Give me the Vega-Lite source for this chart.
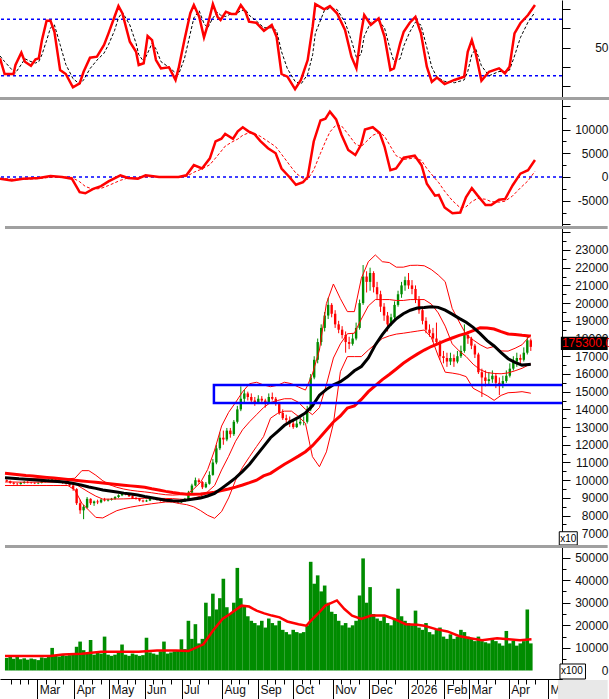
{
"$schema": "https://vega.github.io/schema/vega-lite/v6.json",
"padding": 0,
"spacing": 2,
"bounds": "flush",
"background": "white",
"config": {"view": {"stroke": null}, "axis": {"labelFont": "Liberation Sans", "labelFontSize": 12, "labelColor": "#111111", "domainColor": "#000000", "tickColor": "#000000", "grid": false, "labelOverlap": false, "labelFlush": false, "labelBound": false}},
"datasets": {
"p": [
{"t":1,"o":10000,"h":10050,"l":9900,"c":9950,"v":5500},{"t":3,"o":9950,"h":9980,"l":9800,"c":9850,"v":6000},{"t":5,"o":9850,"h":9900,"l":9750,"c":9800,"v":5200},{"t":7,"o":9800,"h":9850,"l":9700,"c":9780,"v":6800},{"t":9,"o":9780,"h":9900,"l":9750,"c":9850,"v":5000},{"t":11,"o":9850,"h":9950,"l":9800,"c":9900,"v":5400},{"t":13,"o":9900,"h":9950,"l":9820,"c":9870,"v":4800},{"t":15,"o":9870,"h":9900,"l":9800,"c":9850,"v":5300},{"t":17,"o":9850,"h":9880,"l":9780,"c":9820,"v":5000},{"t":19,"o":9820,"h":9880,"l":9780,"c":9850,"v":4600},
{"t":21,"o":9850,"h":9950,"l":9820,"c":9900,"v":5800},{"t":23,"o":9900,"h":9980,"l":9870,"c":9950,"v":5500},{"t":25,"o":9950,"h":10050,"l":9900,"c":10000,"v":6200},{"t":27,"o":10000,"h":10150,"l":9950,"c":10050,"v":10000},{"t":29,"o":10050,"h":10080,"l":9950,"c":10000,"v":6500},{"t":31,"o":10000,"h":10020,"l":9850,"c":9900,"v":6200},{"t":33,"o":9900,"h":9950,"l":9800,"c":9850,"v":7000},{"t":35,"o":9850,"h":9900,"l":9750,"c":9800,"v":6500},{"t":37,"o":9800,"h":9850,"l":9650,"c":9700,"v":6800},{"t":39,"o":9700,"h":9750,"l":9400,"c":9500,"v":7500},
{"t":41,"o":9500,"h":9550,"l":8600,"c":8700,"v":10500},{"t":43,"o":8700,"h":8900,"l":8100,"c":8300,"v":12800},{"t":45,"o":8300,"h":8600,"l":7800,"c":8500,"v":9000},{"t":47,"o":8450,"h":9050,"l":8400,"c":8950,"v":7500},{"t":49,"o":8950,"h":8980,"l":8600,"c":8700,"v":13500},{"t":51,"o":8700,"h":8850,"l":8550,"c":8800,"v":7000},{"t":53,"o":8800,"h":8900,"l":8650,"c":8750,"v":8000},{"t":55,"o":8750,"h":8950,"l":8700,"c":8900,"v":7500},{"t":57,"o":8900,"h":9000,"l":8800,"c":8850,"v":15000},{"t":59,"o":8850,"h":8950,"l":8800,"c":8900,"v":7000},
{"t":61,"o":8900,"h":9000,"l":8850,"c":8950,"v":6500},{"t":63,"o":8950,"h":9100,"l":8900,"c":9050,"v":7000},{"t":65,"o":9050,"h":9200,"l":9000,"c":9150,"v":8000},{"t":67,"o":9150,"h":9300,"l":9100,"c":9250,"v":11500},{"t":69,"o":9250,"h":9300,"l":9150,"c":9200,"v":7000},{"t":71,"o":9200,"h":9250,"l":9050,"c":9100,"v":6500},{"t":73,"o":9100,"h":9150,"l":8950,"c":9000,"v":7500},{"t":75,"o":9000,"h":9050,"l":8900,"c":8950,"v":7000},{"t":77,"o":8950,"h":9000,"l":8800,"c":8850,"v":6500},{"t":79,"o":8850,"h":8900,"l":8750,"c":8800,"v":6800},
{"t":81,"o":8800,"h":8900,"l":8780,"c":8850,"v":14500},{"t":83,"o":8850,"h":9050,"l":8820,"c":9000,"v":8000},{"t":85,"o":9000,"h":9050,"l":8920,"c":8980,"v":7500},{"t":87,"o":8980,"h":9000,"l":8850,"c":8900,"v":7000},{"t":89,"o":8900,"h":8950,"l":8800,"c":8850,"v":8500},{"t":91,"o":8850,"h":8900,"l":8780,"c":8820,"v":12800},{"t":93,"o":8820,"h":8880,"l":8780,"c":8830,"v":7500},{"t":95,"o":8830,"h":8870,"l":8770,"c":8820,"v":8000},{"t":97,"o":8820,"h":8850,"l":8730,"c":8780,"v":8500},{"t":99,"o":8780,"h":8800,"l":8700,"c":8750,"v":9000},
{"t":101,"o":8750,"h":8850,"l":8720,"c":8800,"v":13800},{"t":103,"o":8800,"h":9000,"l":8780,"c":8950,"v":9500},{"t":105,"o":8950,"h":9400,"l":8900,"c":9300,"v":22000},{"t":107,"o":9300,"h":9800,"l":9250,"c":9700,"v":14000},{"t":109,"o":9700,"h":10150,"l":9650,"c":10000,"v":20500},{"t":111,"o":10000,"h":10100,"l":9800,"c":9900,"v":12000},{"t":113,"o":9900,"h":9950,"l":9500,"c":9600,"v":14000},{"t":115,"o":9600,"h":9900,"l":9550,"c":9800,"v":30000},{"t":117,"o":9800,"h":10500,"l":9750,"c":10300,"v":24000},{"t":119,"o":10300,"h":11200,"l":10250,"c":11000,"v":34000},
{"t":121,"o":11000,"h":12000,"l":10900,"c":11800,"v":27000},{"t":123,"o":11800,"h":12700,"l":11700,"c":12400,"v":32000},{"t":125,"o":12400,"h":12800,"l":12000,"c":12300,"v":40600},{"t":127,"o":12300,"h":12950,"l":12200,"c":12800,"v":28000},{"t":129,"o":12800,"h":12950,"l":12400,"c":12600,"v":25000},{"t":131,"o":12600,"h":13400,"l":12500,"c":13300,"v":30000},{"t":133,"o":13300,"h":14200,"l":13200,"c":14000,"v":45400},{"t":135,"o":14000,"h":15300,"l":13900,"c":14600,"v":32000},{"t":137,"o":14600,"h":15100,"l":14400,"c":14900,"v":28700},{"t":139,"o":14900,"h":15000,"l":14500,"c":14700,"v":24000},
{"t":141,"o":14700,"h":14900,"l":14300,"c":14500,"v":22000},{"t":143,"o":14500,"h":14700,"l":14200,"c":14400,"v":21000},{"t":145,"o":14400,"h":14800,"l":14300,"c":14600,"v":20000},{"t":147,"o":14600,"h":14750,"l":14300,"c":14500,"v":22000},{"t":149,"o":14500,"h":14600,"l":14100,"c":14400,"v":19000},{"t":151,"o":14400,"h":14900,"l":14300,"c":14700,"v":23000},{"t":153,"o":14700,"h":14950,"l":14500,"c":14600,"v":21000},{"t":155,"o":14600,"h":14700,"l":14200,"c":14300,"v":20000},{"t":157,"o":14300,"h":14400,"l":13700,"c":13800,"v":22000},{"t":159,"o":13800,"h":14000,"l":13400,"c":13500,"v":18000},
{"t":161,"o":13500,"h":13700,"l":13200,"c":13400,"v":17000},{"t":163,"o":13400,"h":13600,"l":13000,"c":13200,"v":16000},{"t":165,"o":13200,"h":13400,"l":12900,"c":13000,"v":18000},{"t":167,"o":13000,"h":13400,"l":12950,"c":13200,"v":17000},{"t":169,"o":13200,"h":13500,"l":13100,"c":13300,"v":16500},{"t":171,"o":13300,"h":13600,"l":13100,"c":13300,"v":17000},{"t":173,"o":13300,"h":14200,"l":13200,"c":14000,"v":20000},{"t":175,"o":14000,"h":16000,"l":13900,"c":15800,"v":48100},{"t":177,"o":15800,"h":17000,"l":15700,"c":16800,"v":38400},{"t":179,"o":16800,"h":18000,"l":16600,"c":17800,"v":42100},
{"t":181,"o":17800,"h":18800,"l":17600,"c":18600,"v":35000},{"t":183,"o":18600,"h":19500,"l":18400,"c":19300,"v":37600},{"t":185,"o":19300,"h":20300,"l":19100,"c":19900,"v":30000},{"t":187,"o":19900,"h":20000,"l":19200,"c":19400,"v":26000},{"t":189,"o":19400,"h":19600,"l":18600,"c":18800,"v":25000},{"t":191,"o":18800,"h":19000,"l":18300,"c":18500,"v":22000},{"t":193,"o":18500,"h":18700,"l":18000,"c":18200,"v":20000},{"t":195,"o":18200,"h":18400,"l":17200,"c":17800,"v":21000},{"t":197,"o":17800,"h":18100,"l":17400,"c":17700,"v":19000},{"t":199,"o":17700,"h":18300,"l":17600,"c":18000,"v":20000},
{"t":201,"o":18000,"h":18900,"l":17900,"c":18600,"v":22000},{"t":203,"o":18600,"h":20200,"l":18500,"c":20000,"v":33200},{"t":205,"o":20000,"h":22150,"l":19900,"c":21500,"v":49600},{"t":207,"o":21500,"h":21800,"l":20600,"c":21200,"v":30000},{"t":209,"o":21200,"h":22000,"l":20700,"c":21700,"v":36900},{"t":211,"o":21700,"h":21800,"l":20600,"c":20900,"v":25000},{"t":213,"o":20900,"h":21200,"l":20200,"c":20500,"v":23000},{"t":215,"o":20500,"h":20700,"l":19500,"c":19800,"v":22000},{"t":217,"o":19800,"h":20000,"l":19000,"c":19300,"v":24000},{"t":219,"o":19300,"h":19500,"l":18400,"c":18800,"v":21000},
{"t":221,"o":18800,"h":19400,"l":18700,"c":19200,"v":20000},{"t":223,"o":19200,"h":20100,"l":19100,"c":19900,"v":23000},{"t":225,"o":19900,"h":20700,"l":19800,"c":20500,"v":36200},{"t":227,"o":20500,"h":21200,"l":20300,"c":21000,"v":24000},{"t":229,"o":21000,"h":21500,"l":20700,"c":21300,"v":22000},{"t":231,"o":21300,"h":21700,"l":20800,"c":21000,"v":21000},{"t":233,"o":21000,"h":21300,"l":20500,"c":20800,"v":20000},{"t":235,"o":20800,"h":21000,"l":20000,"c":20200,"v":26500},{"t":237,"o":20200,"h":20400,"l":19400,"c":19600,"v":19000},{"t":239,"o":19600,"h":19800,"l":18800,"c":19000,"v":18000},
{"t":241,"o":19000,"h":19200,"l":18300,"c":18500,"v":21000},{"t":243,"o":18500,"h":18800,"l":18100,"c":18300,"v":17000},{"t":245,"o":18300,"h":18600,"l":17800,"c":18000,"v":16000},{"t":247,"o":18000,"h":18900,"l":17700,"c":17800,"v":18000},{"t":249,"o":17800,"h":17900,"l":16800,"c":17000,"v":19000},{"t":251,"o":17000,"h":17300,"l":16600,"c":16900,"v":15000},{"t":253,"o":16900,"h":17200,"l":16400,"c":16700,"v":14000},{"t":255,"o":16700,"h":17200,"l":16500,"c":16900,"v":16000},{"t":257,"o":16900,"h":17100,"l":16400,"c":16700,"v":14000},{"t":259,"o":16700,"h":17300,"l":16600,"c":17000,"v":15000},
{"t":261,"o":17000,"h":17600,"l":16900,"c":17300,"v":18000},{"t":263,"o":17300,"h":18800,"l":17200,"c":18200,"v":17000},{"t":265,"o":18200,"h":18400,"l":17700,"c":18000,"v":15000},{"t":267,"o":18000,"h":18100,"l":17400,"c":17600,"v":14000},{"t":269,"o":17600,"h":17700,"l":16900,"c":17100,"v":13000},{"t":271,"o":17100,"h":17200,"l":16000,"c":16100,"v":15000},{"t":273,"o":16100,"h":16300,"l":14700,"c":15800,"v":13000},{"t":275,"o":15800,"h":16200,"l":15300,"c":15600,"v":12500},{"t":277,"o":15600,"h":16100,"l":15400,"c":15700,"v":12000},{"t":279,"o":15700,"h":16200,"l":15500,"c":15900,"v":14000},
{"t":281,"o":15900,"h":16000,"l":15200,"c":15500,"v":13000},{"t":283,"o":15500,"h":15800,"l":14800,"c":15400,"v":12000},{"t":285,"o":15400,"h":15900,"l":15200,"c":15600,"v":11000},{"t":287,"o":15600,"h":16200,"l":15500,"c":15900,"v":17500},{"t":289,"o":15900,"h":16600,"l":15800,"c":16300,"v":12000},{"t":291,"o":16300,"h":17000,"l":16200,"c":16700,"v":13000},{"t":293,"o":16700,"h":17200,"l":16400,"c":16900,"v":11000},{"t":295,"o":16900,"h":17100,"l":16500,"c":16800,"v":12000},{"t":297,"o":16800,"h":17500,"l":16700,"c":17200,"v":13000},{"t":299,"o":17200,"h":18100,"l":17100,"c":17900,"v":27000},
{"t":301,"o":17900,"h":18000,"l":17300,"c":17530,"v":12000}
],
"m": [
{"t":0,"bu":10100,"bm":9900,"bl":9700,"k":10140,"r":10390},{"t":4,"bu":10100,"bm":9900,"bl":9700,"k":10110,"r":10350},{"t":8,"bu":10090,"bm":9890,"bl":9700,"k":10080,"r":10310},{"t":12,"bu":10090,"bm":9890,"bl":9700,"k":10060,"r":10270},{"t":16,"bu":10090,"bm":9890,"bl":9700,"k":10030,"r":10240},{"t":20,"bu":10080,"bm":9890,"bl":9700,"k":10000,"r":10200},{"t":24,"bu":10080,"bm":9890,"bl":9700,"k":9970,"r":10160},{"t":28,"bu":10080,"bm":9890,"bl":9700,"k":9940,"r":10120},{"t":32,"bu":10080,"bm":9890,"bl":9700,"k":9910,"r":10080},{"t":36,"bu":10080,"bm":9890,"bl":9700,"k":9870,"r":10040},
{"t":40,"bu":10110,"bm":9800,"bl":9450,"k":9795,"r":10000},{"t":44,"bu":10540,"bm":9560,"bl":8700,"k":9710,"r":9960},{"t":48,"bu":10540,"bm":9320,"bl":8300,"k":9620,"r":9920},{"t":52,"bu":10280,"bm":9100,"bl":7900,"k":9540,"r":9880},{"t":56,"bu":9970,"bm":8930,"bl":7870,"k":9450,"r":9840},{"t":60,"bu":9740,"bm":8930,"bl":8080,"k":9390,"r":9800},{"t":64,"bu":9600,"bm":8940,"bl":8280,"k":9330,"r":9760},{"t":68,"bu":9500,"bm":8945,"bl":8390,"k":9270,"r":9720},{"t":72,"bu":9430,"bm":8960,"bl":8480,"k":9220,"r":9680},{"t":76,"bu":9380,"bm":8970,"bl":8550,"k":9160,"r":9640},
{"t":80,"bu":9340,"bm":8980,"bl":8610,"k":9080,"r":9600},{"t":84,"bu":9290,"bm":8980,"bl":8670,"k":9010,"r":9520},{"t":88,"bu":9230,"bm":8975,"bl":8720,"k":8940,"r":9450},{"t":92,"bu":9180,"bm":8970,"bl":8770,"k":8870,"r":9370},{"t":96,"bu":9160,"bm":8960,"bl":8760,"k":8840,"r":9300},{"t":100,"bu":9180,"bm":8930,"bl":8680,"k":8830,"r":9250},{"t":104,"bu":9200,"bm":8910,"bl":8620,"k":8880,"r":9210},{"t":108,"bu":9500,"bm":8990,"bl":8500,"k":8940,"r":9210},{"t":112,"bu":9880,"bm":9100,"bl":8280,"k":9000,"r":9220},{"t":116,"bu":10600,"bm":9350,"bl":8020,"k":9110,"r":9270},
{"t":120,"bu":11700,"bm":9700,"bl":7850,"k":9260,"r":9320},{"t":124,"bu":13060,"bm":10580,"bl":8230,"k":9540,"r":9420},{"t":128,"bu":13830,"bm":11350,"bl":9000,"k":9830,"r":9500},{"t":132,"bu":14390,"bm":12200,"bl":10000,"k":10130,"r":9610},{"t":136,"bu":14990,"bm":12850,"bl":10730,"k":10500,"r":9730},{"t":140,"bu":15450,"bm":13300,"bl":11330,"k":10900,"r":9860},{"t":144,"bu":15530,"bm":13700,"bl":11900,"k":11400,"r":10000},{"t":148,"bu":15380,"bm":14100,"bl":12460,"k":11900,"r":10240},{"t":152,"bu":15280,"bm":14390,"bl":13500,"k":12400,"r":10390},{"t":156,"bu":15360,"bm":14500,"bl":13770,"k":12750,"r":10650},
{"t":160,"bu":15530,"bm":14600,"bl":13900,"k":13100,"r":10900},{"t":164,"bu":15450,"bm":14600,"bl":13900,"k":13340,"r":11130},{"t":168,"bu":15260,"bm":14400,"bl":13600,"k":13550,"r":11360},{"t":172,"bu":15090,"bm":14000,"bl":13210,"k":13800,"r":11610},{"t":176,"bu":16000,"bm":13700,"bl":11330,"k":14200,"r":11950},{"t":180,"bu":17350,"bm":14100,"bl":10760,"k":14800,"r":12380},{"t":184,"bu":19980,"bm":15400,"bl":11600,"k":15130,"r":12830},{"t":188,"bu":21080,"bm":16900,"bl":13200,"k":15390,"r":13290},{"t":192,"bu":20250,"bm":17700,"bl":16130,"k":15560,"r":13630},{"t":196,"bu":19520,"bm":18270,"bl":16980,"k":15840,"r":14080},
{"t":200,"bu":19520,"bm":18300,"bl":16980,"k":16180,"r":14200},{"t":204,"bu":21400,"bm":19100,"bl":16980,"k":16420,"r":14560},{"t":208,"bu":22340,"bm":19840,"bl":17350,"k":16900,"r":15000},{"t":212,"bu":22720,"bm":20200,"bl":17680,"k":17640,"r":15340},{"t":216,"bu":22340,"bm":20200,"bl":18000,"k":18220,"r":15680},{"t":220,"bu":22290,"bm":20200,"bl":18150,"k":18720,"r":15970},{"t":224,"bu":22030,"bm":20150,"bl":18250,"k":19120,"r":16280},{"t":228,"bu":22030,"bm":20150,"bl":18300,"k":19400,"r":16600},{"t":232,"bu":22130,"bm":20200,"bl":18360,"k":19600,"r":16870},{"t":236,"bu":22140,"bm":20200,"bl":18420,"k":19720,"r":17120},
{"t":240,"bu":22110,"bm":20200,"bl":18480,"k":19750,"r":17350},{"t":244,"bu":21900,"bm":19950,"bl":18080,"k":19790,"r":17550},{"t":248,"bu":21590,"bm":19450,"bl":17020,"k":19760,"r":17710},{"t":252,"bu":21210,"bm":18700,"bl":16100,"k":19600,"r":17880},{"t":256,"bu":19700,"bm":17700,"bl":16050,"k":19380,"r":18030},{"t":260,"bu":18940,"bm":17300,"bl":15980,"k":19140,"r":18180},{"t":264,"bu":18220,"bm":16980,"bl":15850,"k":18920,"r":18290},{"t":268,"bu":17920,"bm":16550,"bl":15190,"k":18630,"r":18450},{"t":272,"bu":17650,"bm":16240,"bl":14980,"k":18280,"r":18610},{"t":276,"bu":17450,"bm":16080,"bl":14770,"k":17880,"r":18600},
{"t":280,"bu":17550,"bm":16030,"bl":14510,"k":17580,"r":18540},{"t":284,"bu":17300,"bm":16010,"bl":14790,"k":17200,"r":18390},{"t":288,"bu":17290,"bm":16060,"bl":14940,"k":16860,"r":18260},{"t":292,"bu":17450,"bm":16180,"bl":14960,"k":16650,"r":18230},{"t":296,"bu":17650,"bm":16320,"bl":15000,"k":16500,"r":18180},{"t":300,"bu":18100,"bm":16520,"bl":14930,"k":16540,"r":18150},{"t":301,"bu":18200,"bm":16560,"bl":14910,"k":16550,"r":18140}
],
"vm": [
{"t":0,"v":6400},{"t":26,"v":6400},{"t":33,"v":7100},{"t":44,"v":7400},{"t":55,"v":8300},{"t":65.5,"v":8300},{"t":76.5,"v":8300},{"t":87,"v":8900},{"t":98,"v":8900},{"t":105,"v":8600},{"t":113.6,"v":11600},{"t":119,"v":17600},{"t":124.5,"v":22800},{"t":128.8,"v":25000},{"t":135.4,"v":28700},{"t":139.7,"v":28300},{"t":144,"v":26500},{"t":148.4,"v":25300},{"t":152.8,"v":24300},{"t":157.2,"v":23500},{"t":161.6,"v":21700},{"t":168,"v":20500},{"t":172.5,"v":19800},{"t":174.7,"v":21700},{"t":179,"v":25000},{"t":183.4,"v":28700},{"t":190,"v":31000},{"t":194.3,"v":27200},{"t":198.7,"v":24300},{"t":204,"v":22800},{"t":209.6,"v":24300},{"t":217.3,"v":24300},{"t":222.7,"v":22800},{"t":229.3,"v":20500},{"t":235.8,"v":20200},{"t":240,"v":19800},{"t":246.7,"v":18300},{"t":253.3,"v":17300},{"t":259.8,"v":15300},{"t":266.4,"v":14300},{"t":273,"v":13400},{"t":281.7,"v":14300},{"t":288.2,"v":13800},{"t":294.8,"v":13400},{"t":301.4,"v":13800}
],
"mc": [
{"t":0,"m":-360,"s":-300},{"t":6.6,"m":-710,"s":-450},{"t":13,"m":-360,"s":-500},{"t":21.8,"m":-210,"s":-350},{"t":28.4,"m":210,"s":-50},{"t":34.9,"m":0,"s":50},{"t":40.4,"m":-360,"s":-100},{"t":44.8,"m":-3210,"s":-1000},{"t":48,"m":-3430,"s":-2000},{"t":52.4,"m":-2500,"s":-2600},{"t":56.8,"m":-1930,"s":-2400},{"t":61,"m":-930,"s":-1800},{"t":67.7,"m":360,"s":-700},{"t":72,"m":-210,"s":-200},{"t":77.5,"m":-360,"s":-200},{"t":81.9,"m":360,"s":0},{"t":89.4,"m":0,"s":100},{"t":100.4,"m":0,"s":0},{"t":104.8,"m":360,"s":100},{"t":109,"m":2500,"s":1000},{"t":113.6,"m":1790,"s":1700},{"t":118,"m":3930,"s":2600},{"t":121.2,"m":7500,"s":4000},{"t":124.5,"m":8070,"s":5500},{"t":126.6,"m":9070,"s":6500},{"t":131,"m":8070,"s":7500},{"t":133.7,"m":9640,"s":8000},{"t":136.5,"m":10500,"s":8800},{"t":139.7,"m":9640,"s":9300},{"t":143,"m":9070,"s":9200},{"t":146.3,"m":7640,"s":8600},{"t":150.7,"m":6070,"s":7500},{"t":155,"m":5000,"s":6400},{"t":158.3,"m":1790,"s":4800},{"t":162.7,"m":0,"s":2600},{"t":166.4,"m":-1640,"s":800},{"t":170.4,"m":-1070,"s":-300},{"t":173,"m":0,"s":-500},{"t":176.4,"m":7500,"s":1500},{"t":180.2,"m":11930,"s":5000},{"t":183,"m":12290,"s":7500},{"t":185.5,"m":13790,"s":9500},{"t":189,"m":12140,"s":11000},{"t":192,"m":8930,"s":10800},{"t":195.8,"m":5710,"s":9000},{"t":199.8,"m":4640,"s":7000},{"t":203,"m":6790,"s":6400},{"t":205.2,"m":10000,"s":7200},{"t":209.6,"m":10500,"s":8800},{"t":213.5,"m":9290,"s":9400},{"t":216.2,"m":6430,"s":8600},{"t":219.5,"m":1430,"s":6500},{"t":222.7,"m":1790,"s":4500},{"t":227,"m":4070,"s":3700},{"t":233.2,"m":4500,"s":4000},{"t":237,"m":2500,"s":3500},{"t":240,"m":-1430,"s":1800},{"t":244.6,"m":-3930,"s":-300},{"t":246.7,"m":-3790,"s":-1200},{"t":250,"m":-6430,"s":-3000},{"t":254.4,"m":-7640,"s":-5000},{"t":258.8,"m":-7500,"s":-6500},{"t":262,"m":-4290,"s":-6300},{"t":265.3,"m":-2360,"s":-5200},{"t":268.6,"m":-3930,"s":-4500},{"t":273,"m":-5930,"s":-4700},{"t":276.2,"m":-5930,"s":-5200},{"t":280.6,"m":-4790,"s":-5300},{"t":284,"m":-4640,"s":-5100},{"t":288.2,"m":-1790,"s":-4000},{"t":292.6,"m":710,"s":-2300},{"t":296.9,"m":1430,"s":-800},{"t":300.8,"m":3570,"s":1200}
],
"rs": [
{"t":0,"r":42.3,"s":44},{"t":2.6,"r":31.2,"s":40},{"t":7.6,"r":31.2,"s":33},{"t":8.7,"r":37.6,"s":32},{"t":12,"r":46.3,"s":38},{"t":14,"r":39.9,"s":42},{"t":17.4,"r":37.1,"s":40},{"t":20,"r":41.6,"s":39},{"t":21.8,"r":42.3,"s":40},{"t":23.6,"r":55.3,"s":45},{"t":26.2,"r":69,"s":55},{"t":28.4,"r":69,"s":64},{"t":30.6,"r":61.2,"s":66},{"t":33.8,"r":34,"s":52},{"t":37,"r":31.2,"s":38},{"t":41,"r":21.8,"s":28},{"t":44.8,"r":24.6,"s":24},{"t":47,"r":32.8,"s":27},{"t":50.6,"r":42.8,"s":35},{"t":54.5,"r":43.5,"s":41},{"t":58.5,"r":51.8,"s":46},{"t":61,"r":60,"s":52},{"t":64.4,"r":71.8,"s":62},{"t":66.6,"r":79.4,"s":71},{"t":68.8,"r":74.3,"s":75},{"t":73,"r":54.1,"s":66},{"t":76.5,"r":47,"s":53},{"t":78,"r":37.6,"s":45},{"t":80.8,"r":38.8,"s":40},{"t":83,"r":58.2,"s":46},{"t":85.5,"r":55.3,"s":53},{"t":87.7,"r":41.1,"s":49},{"t":90.5,"r":35.2,"s":40},{"t":95,"r":36,"s":36},{"t":98.7,"r":27,"s":32},{"t":100.4,"r":35.2,"s":31},{"t":103.7,"r":55.3,"s":42},{"t":107,"r":74.3,"s":60},{"t":109,"r":80.1,"s":71},{"t":112,"r":71.8,"s":76},{"t":114.7,"r":57.2,"s":67},{"t":116.8,"r":66,"s":64},{"t":119.7,"r":80.8,"s":71},{"t":122.3,"r":71.8,"s":75},{"t":124,"r":69.5,"s":73},{"t":127,"r":75.4,"s":72},{"t":130,"r":73.8,"s":74},{"t":132.7,"r":73.8,"s":74},{"t":135.4,"r":80.1,"s":76},{"t":138,"r":75.4,"s":77},{"t":140,"r":68.3,"s":73},{"t":144,"r":67.6,"s":69},{"t":148.4,"r":61.9,"s":64},{"t":152.8,"r":66,"s":64},{"t":155.5,"r":57.7,"s":62},{"t":158.3,"r":31.2,"s":47},{"t":161.6,"r":29.3,"s":35},{"t":165.9,"r":20.4,"s":26},{"t":169.2,"r":27,"s":24},{"t":173,"r":41.1,"s":31},{"t":175.8,"r":64.8,"s":45},{"t":177.3,"r":80.8,"s":60},{"t":182.3,"r":77.1,"s":76},{"t":185.5,"r":79.4,"s":78},{"t":189.5,"r":74.3,"s":77},{"t":194,"r":62.4,"s":68},{"t":197.6,"r":43.5,"s":55},{"t":200.4,"r":35.2,"s":43},{"t":203,"r":60,"s":45},{"t":204.8,"r":73,"s":58},{"t":208.5,"r":66,"s":68},{"t":212.9,"r":70.7,"s":69},{"t":216.2,"r":57.7,"s":64},{"t":219.5,"r":34,"s":48},{"t":221.5,"r":35.2,"s":40},{"t":225,"r":53,"s":42},{"t":227,"r":61.2,"s":51},{"t":230.4,"r":67.6,"s":61},{"t":233.6,"r":71.8,"s":68},{"t":236.7,"r":60,"s":66},{"t":240,"r":36.4,"s":50},{"t":242.8,"r":25.7,"s":36},{"t":245.7,"r":28.7,"s":29},{"t":250,"r":24.1,"s":26},{"t":255.5,"r":27,"s":25},{"t":261,"r":29.3,"s":27},{"t":263,"r":47,"s":33},{"t":265.3,"r":55.3,"s":45},{"t":267.5,"r":45.8,"s":49},{"t":270.7,"r":26.5,"s":37},{"t":275,"r":32.8,"s":30},{"t":280.6,"r":35.2,"s":33},{"t":283.9,"r":31.7,"s":33},{"t":286.5,"r":36.4,"s":34},{"t":289.3,"r":60,"s":44},{"t":292.6,"r":67.2,"s":57},{"t":296.9,"r":73,"s":68},{"t":300.8,"r":80.1,"s":75}
]
},
"vconcat": [
{
"width": 562, "height": 97,
"resolve": {"axis": {"x": "independent", "y": "independent"}},
"layer": [
{"data": {"values": [{"lv": 30}, {"lv": 70}]}, "mark": {"type": "rule", "color": "#0000ff", "strokeDash": [3, 3], "strokeWidth": 1.5, "clip": true},
 "encoding": {"y": {"field": "lv", "type": "quantitative", "title": null, "scale": {"domain": [14.9, 83.7], "nice": false, "zero": false},
  "axis": {"orient": "right", "title": null, "values": [22.6, 36.3, 50, 63.6, 77], "tickSize": 8, "labelExpr": "datum.value == 50 ? '50' : ''", "labelAlign": "right", "labelPadding": 38, "labelBaseline": "middle"}}}},
{"data": {"name": "rs"}, "mark": {"type": "line", "color": "#000000", "strokeWidth": 1, "strokeDash": [3, 2], "clip": true},
 "encoding": {"x": {"field": "t", "type": "quantitative", "scale": {"domain": [0, 316], "nice": false, "zero": false}, "axis": null},
  "y": {"field": "s", "type": "quantitative", "scale": {"domain": [14.9, 83.7], "nice": false, "zero": false}, "axis": null}}},
{"data": {"name": "rs"}, "mark": {"type": "line", "color": "#ff0000", "strokeWidth": 2.5, "clip": true},
 "encoding": {"x": {"field": "t", "type": "quantitative", "scale": {"domain": [0, 316], "nice": false, "zero": false}, "axis": null},
  "y": {"field": "r", "type": "quantitative", "scale": {"domain": [14.9, 83.7], "nice": false, "zero": false}, "axis": null}}}
]
},
{
"width": 562, "height": 127,
"resolve": {"axis": {"x": "independent", "y": "independent"}},
"layer": [
{"data": {"values": [{"a": 0, "b": 345, "lo": 16245, "hi": 16878}]}, "mark": {"type": "rect", "color": "#a0a0a0", "clip": false},
 "encoding": {"x": {"field": "a", "type": "quantitative", "scale": {"domain": [0, 316], "nice": false, "zero": false}, "axis": null}, "x2": {"field": "b"},
  "y": {"field": "lo", "type": "quantitative", "title": null, "scale": {"domain": [-10338, 16456], "nice": false, "zero": false},
   "axis": {"orient": "right", "title": null, "values": [-10000, -7500, -5000, -2500, 0, 2500, 5000, 7500, 10000, 12500, 15000], "tickSize": {"condition": {"test": "datum.value % 5000 === 0", "value": 8}, "value": 4}, "labelExpr": "datum.value % 5000 === 0 && datum.value >= -5000 && datum.value <= 10000 ? '' + datum.value : ''", "labelAlign": "right", "labelPadding": 38, "labelBaseline": "middle"}}, "y2": {"field": "hi"}}},
{"data": {"values": [{"lv": 0}]}, "mark": {"type": "rule", "color": "#0000ff", "strokeDash": [3, 3], "strokeWidth": 1.5, "clip": true},
 "encoding": {"y": {"field": "lv", "type": "quantitative", "scale": {"domain": [-10338, 16456], "nice": false, "zero": false}, "axis": null}}},
{"data": {"name": "mc"}, "mark": {"type": "line", "color": "#ff0000", "strokeWidth": 1, "strokeDash": [3, 2], "clip": true},
 "encoding": {"x": {"field": "t", "type": "quantitative", "scale": {"domain": [0, 316], "nice": false, "zero": false}, "axis": null},
  "y": {"field": "s", "type": "quantitative", "scale": {"domain": [-10338, 16456], "nice": false, "zero": false}, "axis": null}}},
{"data": {"name": "mc"}, "mark": {"type": "line", "color": "#ff0000", "strokeWidth": 2.5, "clip": true},
 "encoding": {"x": {"field": "t", "type": "quantitative", "scale": {"domain": [0, 316], "nice": false, "zero": false}, "axis": null},
  "y": {"field": "m", "type": "quantitative", "scale": {"domain": [-10338, 16456], "nice": false, "zero": false}, "axis": null}}}
]
},
{
"width": 562, "height": 317,
"resolve": {"axis": {"x": "independent", "y": "independent"}},
"layer": [
{"data": {"values": [{"a": 0, "b": 345, "lo": 24186, "hi": 24355}]}, "mark": {"type": "rect", "color": "#a0a0a0", "clip": false},
 "encoding": {"x": {"field": "a", "type": "quantitative", "scale": {"domain": [0, 316], "nice": false, "zero": false}, "axis": null}, "x2": {"field": "b"},
  "y": {"field": "lo", "type": "quantitative", "title": null, "scale": {"domain": [6341, 24242], "nice": false, "zero": false},
   "axis": {"orient": "right", "title": null, "values": [6500, 7000, 7500, 8000, 8500, 9000, 9500, 10000, 10500, 11000, 11500, 12000, 12500, 13000, 13500, 14000, 14500, 15000, 15500, 16000, 16500, 17000, 17500, 18000, 18500, 19000, 19500, 20000, 20500, 21000, 21500, 22000, 22500, 23000, 23500, 24000], "tickSize": {"condition": {"test": "datum.value % 1000 === 0", "value": 8}, "value": 4}, "labelExpr": "datum.value % 1000 === 0 && datum.value <= 23000 ? '' + datum.value : ''", "labelAlign": "right", "labelPadding": 38, "labelBaseline": "middle"}}, "y2": {"field": "hi"}}},
{"data": {"name": "p"}, "mark": {"type": "rule", "strokeWidth": 1, "clip": true},
 "encoding": {"x": {"field": "t", "type": "quantitative", "scale": {"domain": [0, 316], "nice": false, "zero": false}, "axis": null},
  "y": {"field": "l", "type": "quantitative", "scale": {"domain": [6341, 24242], "nice": false, "zero": false}, "axis": null}, "y2": {"field": "h"},
  "color": {"condition": {"test": "datum.c >= datum.o", "value": "#008c00"}, "value": "#ff0000"}}},
{"data": {"name": "p"}, "mark": {"type": "bar", "width": 2.4, "clip": true},
 "encoding": {"x": {"field": "t", "type": "quantitative", "scale": {"domain": [0, 316], "nice": false, "zero": false}, "axis": null},
  "y": {"field": "o", "type": "quantitative", "scale": {"domain": [6341, 24242], "nice": false, "zero": false}, "axis": null}, "y2": {"field": "c"},
  "color": {"condition": {"test": "datum.c >= datum.o", "value": "#008c00"}, "value": "#ff0000"}}},
{"data": {"name": "m"}, "mark": {"type": "line", "color": "#ff0000", "strokeWidth": 1, "clip": true},
 "encoding": {"x": {"field": "t", "type": "quantitative", "scale": {"domain": [0, 316], "nice": false, "zero": false}, "axis": null},
  "y": {"field": "bu", "type": "quantitative", "scale": {"domain": [6341, 24242], "nice": false, "zero": false}, "axis": null}}},
{"data": {"name": "m"}, "mark": {"type": "line", "color": "#ff0000", "strokeWidth": 1, "clip": true},
 "encoding": {"x": {"field": "t", "type": "quantitative", "scale": {"domain": [0, 316], "nice": false, "zero": false}, "axis": null},
  "y": {"field": "bm", "type": "quantitative", "scale": {"domain": [6341, 24242], "nice": false, "zero": false}, "axis": null}}},
{"data": {"name": "m"}, "mark": {"type": "line", "color": "#ff0000", "strokeWidth": 1, "clip": true},
 "encoding": {"x": {"field": "t", "type": "quantitative", "scale": {"domain": [0, 316], "nice": false, "zero": false}, "axis": null},
  "y": {"field": "bl", "type": "quantitative", "scale": {"domain": [6341, 24242], "nice": false, "zero": false}, "axis": null}}},
{"data": {"name": "m"}, "mark": {"type": "line", "color": "#ff0000", "strokeWidth": 3, "clip": true},
 "encoding": {"x": {"field": "t", "type": "quantitative", "scale": {"domain": [0, 316], "nice": false, "zero": false}, "axis": null},
  "y": {"field": "r", "type": "quantitative", "scale": {"domain": [6341, 24242], "nice": false, "zero": false}, "axis": null}}},
{"data": {"name": "m"}, "mark": {"type": "line", "color": "#000000", "strokeWidth": 3, "clip": true},
 "encoding": {"x": {"field": "t", "type": "quantitative", "scale": {"domain": [0, 316], "nice": false, "zero": false}, "axis": null},
  "y": {"field": "k", "type": "quantitative", "scale": {"domain": [6341, 24242], "nice": false, "zero": false}, "axis": null}}},
{"data": {"values": [{"a": 119.6, "b": 340, "lo": 14360, "hi": 15380}]}, "mark": {"type": "rect", "fill": null, "fillOpacity": 0, "stroke": "#0000ff", "strokeWidth": 2.5, "clip": true},
 "encoding": {"x": {"field": "a", "type": "quantitative", "scale": {"domain": [0, 316], "nice": false, "zero": false}, "axis": null}, "x2": {"field": "b"},
  "y": {"field": "lo", "type": "quantitative", "scale": {"domain": [6341, 24242], "nice": false, "zero": false}, "axis": null}, "y2": {"field": "hi"}}},
{"data": {"values": [{"a": 318.2, "b": 345, "lo": 17350, "hi": 18100}]}, "mark": {"type": "rect", "color": "#000000", "clip": false},
 "encoding": {"x": {"field": "a", "type": "quantitative", "scale": {"domain": [0, 316], "nice": false, "zero": false}, "axis": null}, "x2": {"field": "b"},
  "y": {"field": "lo", "type": "quantitative", "scale": {"domain": [6341, 24242], "nice": false, "zero": false}, "axis": null}, "y2": {"field": "hi"}}},
{"data": {"values": [{"a": 318.8, "p": 17725, "lab": "175300.0"}]}, "mark": {"type": "text", "color": "#ff0000", "align": "left", "baseline": "middle", "font": "Liberation Sans", "fontSize": 12, "clip": false},
 "encoding": {"x": {"field": "a", "type": "quantitative", "scale": {"domain": [0, 316], "nice": false, "zero": false}, "axis": null},
  "y": {"field": "p", "type": "quantitative", "scale": {"domain": [6341, 24242], "nice": false, "zero": false}, "axis": null}, "text": {"field": "lab"}}},
{"data": {"values": [{"a": 317.3, "b": 327.6, "lo": 6341, "hi": 7090}]}, "mark": {"type": "rect", "fill": "#ffffff", "stroke": "#000000", "strokeWidth": 1, "clip": false},
 "encoding": {"x": {"field": "a", "type": "quantitative", "scale": {"domain": [0, 316], "nice": false, "zero": false}, "axis": null}, "x2": {"field": "b"},
  "y": {"field": "lo", "type": "quantitative", "scale": {"domain": [6341, 24242], "nice": false, "zero": false}, "axis": null}, "y2": {"field": "hi"}}},
{"data": {"values": [{"a": 317.8, "p": 6700, "lab": "x10"}]}, "mark": {"type": "text", "color": "#000000", "align": "left", "baseline": "middle", "font": "Liberation Sans", "fontSize": 10, "clip": false},
 "encoding": {"x": {"field": "a", "type": "quantitative", "scale": {"domain": [0, 316], "nice": false, "zero": false}, "axis": null},
  "y": {"field": "p", "type": "quantitative", "scale": {"domain": [6341, 24242], "nice": false, "zero": false}, "axis": null}, "text": {"field": "lab"}}}
]
},
{
"width": 562, "height": 132,
"resolve": {"axis": {"x": "independent", "y": "independent"}},
"layer": [
{"data": {"values": [{"a": 0, "b": 345, "lo": 54207, "hi": 55536}]}, "mark": {"type": "rect", "color": "#a0a0a0", "clip": false},
 "encoding": {"x": {"field": "a", "type": "quantitative", "scale": {"domain": [0, 316], "nice": false, "zero": false}, "axis": null}, "x2": {"field": "b"},
  "y": {"field": "lo", "type": "quantitative", "title": null, "scale": {"domain": [-3760, 54650], "nice": false, "zero": false},
   "axis": {"orient": "right", "title": null, "values": [0, 5000, 10000, 15000, 20000, 25000, 30000, 35000, 40000, 45000, 50000], "tickSize": {"condition": {"test": "datum.value % 10000 === 0", "value": 8}, "value": 4}, "labelExpr": "datum.value % 10000 === 0 ? '' + datum.value : ''", "labelAlign": "right", "labelPadding": 38, "labelBaseline": "middle"}}, "y2": {"field": "hi"}}},
{"data": {"name": "p"}, "mark": {"type": "bar", "width": 3.6, "color": "#008c00", "clip": true},
 "encoding": {"x": {"field": "t", "type": "quantitative", "title": null, "scale": {"domain": [0, 316], "nice": false, "zero": false},
   "axis": {"orient": "bottom", "title": null, "values": [3.4, 8.4, 13.4, 18.4, 23.4, 28.4, 33.4, 39.7, 44.7, 49.7, 54.7, 59.6, 64.6, 69.6, 74.6, 79.9, 84.9, 89.9, 94.9, 101.1, 106.1, 111.1, 116.1, 124.2, 129.2, 134.2, 139.2, 144.8, 149.8, 154.8, 159.8, 164.8, 169.8, 174.8, 179.8, 187.6, 192.6, 197.6, 202.6, 208.3, 213.3, 218.3, 223.3, 230.9, 235.9, 240.9, 245.9, 251.5, 256.5, 261.5, 265.6, 270.6, 275.6, 280.6, 288.4, 293.4, 298.4, 303.4, 310.8],
    "tickSize": {"condition": {"test": "indexof([18.4,39.7,59.6,79.9,101.1,124.2,144.8,164.8,187.6,208.3,230.9,251.5,265.6,288.4,310.8], datum.value) >= 0", "value": 20}, "value": 5},
    "labelExpr": "datum.value == 18.4 ? 'Mar' : datum.value == 39.7 ? 'Apr' : datum.value == 59.6 ? 'May' : datum.value == 79.9 ? 'Jun' : datum.value == 101.1 ? 'Jul' : datum.value == 124.2 ? 'Aug' : datum.value == 144.8 ? 'Sep' : datum.value == 164.8 ? 'Oct' : datum.value == 187.6 ? 'Nov' : datum.value == 208.3 ? 'Dec' : datum.value == 230.9 ? '2026' : datum.value == 251.5 ? 'Feb' : datum.value == 265.6 ? 'Mar' : datum.value == 288.4 ? 'Apr' : datum.value == 310.8 ? 'M' : ''",
    "labelAlign": "left", "labelOffset": 2, "labelPadding": -15, "labelBaseline": "top"}},
  "y": {"field": "v", "type": "quantitative", "scale": {"domain": [-3760, 54650], "nice": false, "zero": false}, "axis": null}, "y2": {"datum": 0}}},
{"data": {"name": "vm"}, "mark": {"type": "line", "color": "#ff0000", "strokeWidth": 2.5, "clip": true},
 "encoding": {"x": {"field": "t", "type": "quantitative", "scale": {"domain": [0, 316], "nice": false, "zero": false}, "axis": null},
  "y": {"field": "v", "type": "quantitative", "scale": {"domain": [-3760, 54650], "nice": false, "zero": false}, "axis": null}}},
{"data": {"values": [{"a": 316.6, "b": 345, "lo": -4200, "hi": -12700}]}, "mark": {"type": "rect", "color": "#e8e8e8", "clip": false},
 "encoding": {"x": {"field": "a", "type": "quantitative", "scale": {"domain": [0, 316], "nice": false, "zero": false}, "axis": null}, "x2": {"field": "b"},
  "y": {"field": "lo", "type": "quantitative", "scale": {"domain": [-3760, 54650], "nice": false, "zero": false}, "axis": null}, "y2": {"field": "hi"}}},
{"data": {"values": [{"a": 317.7, "b": 332.3, "lo": -3760, "hi": 2880}]}, "mark": {"type": "rect", "fill": "#ffffff", "stroke": "#000000", "strokeWidth": 1, "clip": false},
 "encoding": {"x": {"field": "a", "type": "quantitative", "scale": {"domain": [0, 316], "nice": false, "zero": false}, "axis": null}, "x2": {"field": "b"},
  "y": {"field": "lo", "type": "quantitative", "scale": {"domain": [-3760, 54650], "nice": false, "zero": false}, "axis": null}, "y2": {"field": "hi"}}},
{"data": {"values": [{"a": 318.3, "p": -400, "lab": "x100"}]}, "mark": {"type": "text", "color": "#000000", "align": "left", "baseline": "middle", "font": "Liberation Sans", "fontSize": 10, "clip": false},
 "encoding": {"x": {"field": "a", "type": "quantitative", "scale": {"domain": [0, 316], "nice": false, "zero": false}, "axis": null},
  "y": {"field": "p", "type": "quantitative", "scale": {"domain": [-3760, 54650], "nice": false, "zero": false}, "axis": null}, "text": {"field": "lab"}}}
]
}
]
}
